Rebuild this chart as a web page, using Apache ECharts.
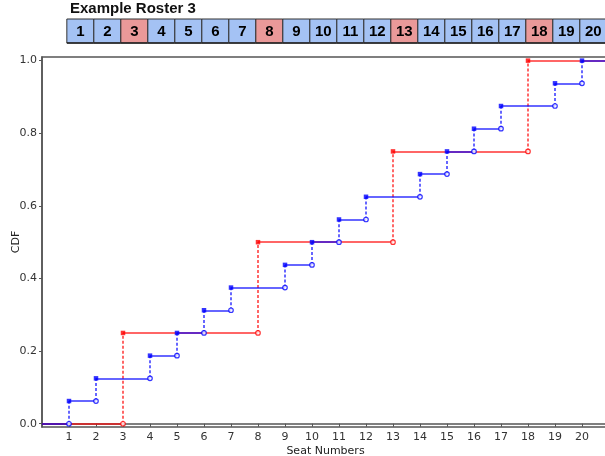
<!DOCTYPE html>
<html><head><meta charset="utf-8">
<script src="https://cdn.jsdelivr.net/npm/echarts@6/dist/echarts.min.js"></script>
<style>html,body{margin:0;padding:0;background:#fff}#c{width:605px;height:456px}</style>
</head><body><div id="c"></div>
<script>
const titleText = 'Example Roster 3';
const seats = [1,2,3,4,5,6,7,8,9,10,11,12,13,14,15,16,17,18,19,20];
const redSeats = [3,8,13,18];
const blueSeats = [1,2,4,5,6,7,9,10,11,12,14,15,16,17,19,20];
const yTicks = [0,0.2,0.4,0.6,0.8,1.0];
const xMin = 0, xMax = 21;

const BLUE = '#0000ff', RED = '#ff0000';
const boxBlue = '#a4c2f4', boxRed = '#ea9999';

function stepData(list){
  const n = list.length;
  const horiz = [], vert = [], filled = [], open = [];
  let prevX = xMin, prevY = 0;
  list.forEach((s,i)=>{
    const y = (i+1)/n;
    horiz.push({coords:[[prevX,prevY],[s,prevY]]});
    vert.push({coords:[[s,prevY],[s,y]]});
    open.push([s,prevY]);
    filled.push([s,y]);
    prevX = s; prevY = y;
  });
  horiz.push({coords:[[prevX,prevY],[xMax,prevY]]});
  return {horiz, vert, filled, open};
}
const red = stepData(redSeats), blue = stepData(blueSeats);

function seriesFor(d, color, zb){
  return [
    {type:'lines', coordinateSystem:'cartesian2d', xAxisIndex:0, yAxisIndex:0, data:d.horiz, z:zb,
     lineStyle:{color:color, width:1.5, opacity:0.8}, silent:true, animation:false},
    {type:'lines', coordinateSystem:'cartesian2d', xAxisIndex:0, yAxisIndex:0, data:d.vert, z:zb,
     lineStyle:{color:color, width:1.5, opacity:0.8, type:[3,2]}, silent:true, animation:false},
    {type:'scatter', xAxisIndex:0, yAxisIndex:0, data:d.open, symbol:'circle', symbolSize:4.5, z:zb+5,
     itemStyle:{color:'#fff', borderColor:color, borderWidth:1.2}, animation:false},
    {type:'scatter', xAxisIndex:0, yAxisIndex:0, data:d.filled, symbol:'rect', symbolSize:4.5, z:zb+5,
     itemStyle:{color:color}, animation:false}
  ];
}

const chart = echarts.init(document.getElementById('c'), null, {renderer:'canvas'});
chart.setOption({
  animation:false,
  title:{text:titleText, left:70, top:1, padding:0, textStyle:{fontFamily:'Liberation Sans', fontWeight:'bold', fontSize:15, color:'#111'}},
  grid:[
    {left:42, top:57, width:567, height:370, show:true, borderColor:'#555', borderWidth:1.5, outerBoundsMode:'none', containLabel:false},
    {left:42, top:19, width:567, height:24, outerBoundsMode:'none', containLabel:false}
  ],
  xAxis:[
    {type:'value', gridIndex:0, min:xMin, max:xMax, 
     name:'Seat Numbers', nameLocation:'middle', nameGap:19, nameMoveOverlap:false,
     nameTextStyle:{fontFamily:'DejaVu Sans', fontSize:11, color:'#222'},
     axisLine:{show:true, lineStyle:{color:'#555', width:1.5}},
     axisTick:{show:true, length:3, lineStyle:{color:'#555'}, customValues:seats},
     axisLabel:{fontFamily:'DejaVu Sans', fontSize:11, color:'#333', margin:5, customValues:seats},
     splitLine:{show:false}},
    {type:'value', gridIndex:1, min:xMin, max:xMax, show:false}
  ],
  yAxis:[
    {type:'value', gridIndex:0, min:-0.009, max:1.01,
     name:'CDF', nameLocation:'middle', nameGap:20, nameMoveOverlap:false,
     nameTextStyle:{fontFamily:'DejaVu Sans', fontSize:11, color:'#222'},
     axisLine:{show:true, lineStyle:{color:'#555', width:1.5}},
     axisTick:{show:true, length:3, lineStyle:{color:'#555'}, customValues:yTicks},
     axisLabel:{fontFamily:'DejaVu Sans', fontSize:11, color:'#333', margin:5, customValues:yTicks,
       formatter:v=>Number(v).toFixed(1)},
     splitLine:{show:false}},
    {type:'value', gridIndex:1, min:0, max:1, show:false}
  ],
  series:[
    ...seriesFor(red, RED, 2),
    ...seriesFor(blue, BLUE, 3),
    {type:'custom', xAxisIndex:1, yAxisIndex:1, data:seats.map(s=>[s]), animation:false,
     renderItem:function(params, api){
       const s = api.value(0);
       const p0 = api.coord([s-0.08, 1]);
       const p1 = api.coord([s+0.92, 0]);
       const isRed = redSeats.indexOf(s) >= 0;
       return {type:'group', children:[
         {type:'rect', shape:{x:p0[0], y:p0[1], width:p1[0]-p0[0], height:p1[1]-p0[1]},
          style:{fill:isRed?boxRed:boxBlue, stroke:'#333', lineWidth:1}},
         {type:'line', shape:{x1:p0[0], y1:p1[1], x2:p1[0], y2:p1[1]}, style:{stroke:'#222', lineWidth:1.5}},
         {type:'text', style:{text:String(s), x:(p0[0]+p1[0])/2, y:(p0[1]+p1[1])/2+1, align:'center', verticalAlign:'middle',
          font:'bold 15px "Liberation Sans"', fill:'#000'}}
       ]};
     }}
  ]
});
</script></body></html>
